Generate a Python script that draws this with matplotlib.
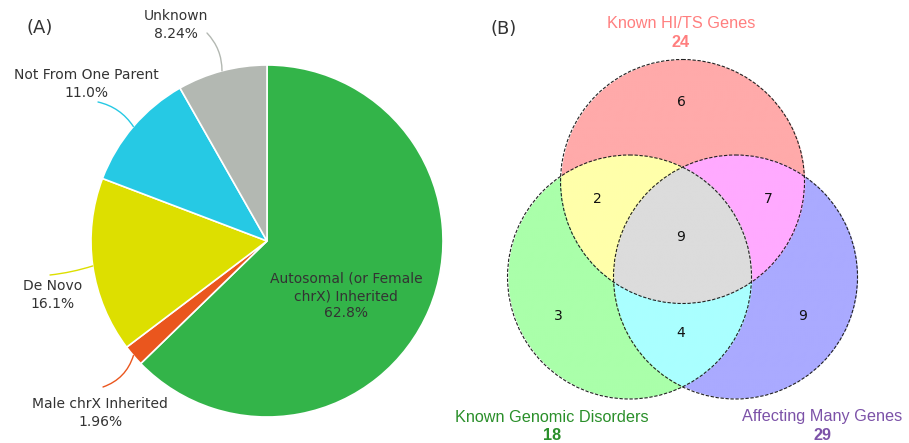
import numpy as np
import matplotlib.pyplot as plt
import matplotlib.colors as mcolors
from matplotlib.patches import Circle

# pie data (A)
pie_labels = ['Autosomal (or Female\nchrX) Inherited', 'Male chrX Inherited', 'De Novo',
              'Not From One Parent', 'Unknown']
pie_pct = [62.8, 1.96, 16.1, 11.0, 8.24]
pie_pct_text = ['62.8%', '1.96%', '16.1%', '11.0%', '8.24%']
pie_colors = ['#33b449', '#ea561e', '#dddf00', '#26c9e4', '#b3b8b2']

# venn data (B): region counts
set_names = ['Known HI/TS Genes', 'Known Genomic Disorders', 'Affecting Many Genes']
set_colors = ['#ff7f7f', '#2a8f2a', '#7c52a8']
only_a, only_b, only_c = 6, 3, 9
ab, ac, bc = 2, 7, 4
abc = 9

W, H = 909, 443
fig = plt.figure(figsize=(W / 100, H / 100), dpi=100)

# ---------- (A) pie ----------
cx, cy, R = 267, 241, 176
ax1 = fig.add_axes([0, 0, 0.5, 1])
wedges, _ = ax1.pie(pie_pct, colors=pie_colors, startangle=90, counterclock=False,
                    wedgeprops=dict(edgecolor='white', linewidth=1.2))
# map pixels -> data units (pie radius 1 = R px)
ax1.set_xlim(-cx / R, (W * 0.5 - cx) / R)
ax1.set_ylim(-(H - cy) / R, cy / R)
ax1.set_aspect('auto')
ax1.axis('off')

def px(x, y):
    return ((x - cx) / R, (cy - y) / R)

txt_kw = dict(fontsize=10, color='#333333', ha='center', va='center', linespacing=1.3)
# main label inside the big slice
ax1.text(*px(346, 296), pie_labels[0] + '\n' + pie_pct_text[0], **txt_kw)

outer = [  # (slice index, text centre px, line start px, connection radius)
    (1, (100, 413), (103, 387), 0.25),
    (2, (53, 295), (50, 275), 0.05),
    (3, (86, 84), (98, 102), -0.2),
    (4, (176, 25), (207, 33), -0.2),
]
for i, (tx, ty), (lx, ly), rad in outer:
    w = wedges[i]
    ang = np.deg2rad((w.theta1 + w.theta2) / 2)
    ax1.text(*px(tx, ty), pie_labels[i] + '\n' + pie_pct_text[i], **txt_kw)
    ax1.annotate('', xy=(np.cos(ang), np.sin(ang)), xytext=px(lx, ly),
                 annotation_clip=False,
                 arrowprops=dict(arrowstyle='-', color=pie_colors[i], lw=1,
                                 shrinkA=0, shrinkB=0,
                                 connectionstyle=f'arc3,rad={rad}'))

fig.text(40 / W, 1 - 28 / H, '(A)', fontsize=13, color='#333333', ha='center', va='center')

# ---------- (B) venn ----------
ax2 = fig.add_axes([0.5, 0, 0.5, 1])
ax2.set_xlim(W * 0.5, W)
ax2.set_ylim(H, 0)
ax2.axis('off')

r = 122
centres = [(682.5, 181.5), (629.5, 277), (735.5, 277)]

gx, gy = np.meshgrid(np.linspace(W * 0.5, W, 1400), np.linspace(0, H, 1360))
inA = (gx - centres[0][0]) ** 2 + (gy - centres[0][1]) ** 2 <= r * r
inB = (gx - centres[1][0]) ** 2 + (gy - centres[1][1]) ** 2 <= r * r
inC = (gx - centres[2][0]) ** 2 + (gy - centres[2][1]) ** 2 <= r * r

img = np.ones(gx.shape + (4,))
img[..., 3] = 0
region_cols = [
    (inA & ~inB & ~inC, '#ffaaaa'),
    (~inA & inB & ~inC, '#aaffaa'),
    (~inA & ~inB & inC, '#aaaaff'),
    (inA & inB & ~inC, '#ffffaa'),
    (inA & ~inB & inC, '#ffaaff'),
    (~inA & inB & inC, '#aaffff'),
    (inA & inB & inC, '#dcdcdc'),
]
for mask, col in region_cols:
    img[mask] = mcolors.to_rgba(col)
ax2.imshow(img, extent=(W * 0.5, W, H, 0), interpolation='bilinear', zorder=1)

for (x, y) in centres:
    ax2.add_patch(Circle((x, y), r, fill=False, edgecolor='#222222', lw=0.8,
                         linestyle=(0, (3, 1.5)), zorder=2))

counts = [only_a, ab, ac, abc, only_b, bc, only_c]
count_pos = [(681, 102), (597, 199), (768, 199), (681, 237), (558, 316), (681, 333), (803, 316)]
for n, (x, y) in zip(counts, count_pos):
    ax2.text(x, y, str(n), fontsize=10, ha='center', va='center', color='#111111', zorder=3)

totals = [only_a + ab + ac + abc, only_b + ab + bc + abc, only_c + ac + bc + abc]
name_pos = [(681, 23), (552, 417), (822, 417)]
for name, tot, col, (x, y) in zip(set_names, totals, set_colors, name_pos):
    ax2.text(x, y, name, fontsize=11.7, family='Liberation Sans', color=col,
             ha='center', va='center')
    ax2.text(x, y + 19, str(tot), fontsize=11.7, family='Liberation Sans', weight='bold',
             color=col, ha='center', va='center')

fig.text(504 / W, 1 - 29 / H, '(B)', fontsize=13, color='#333333', ha='center', va='center')

fig.savefig('out.png', dpi=100)
